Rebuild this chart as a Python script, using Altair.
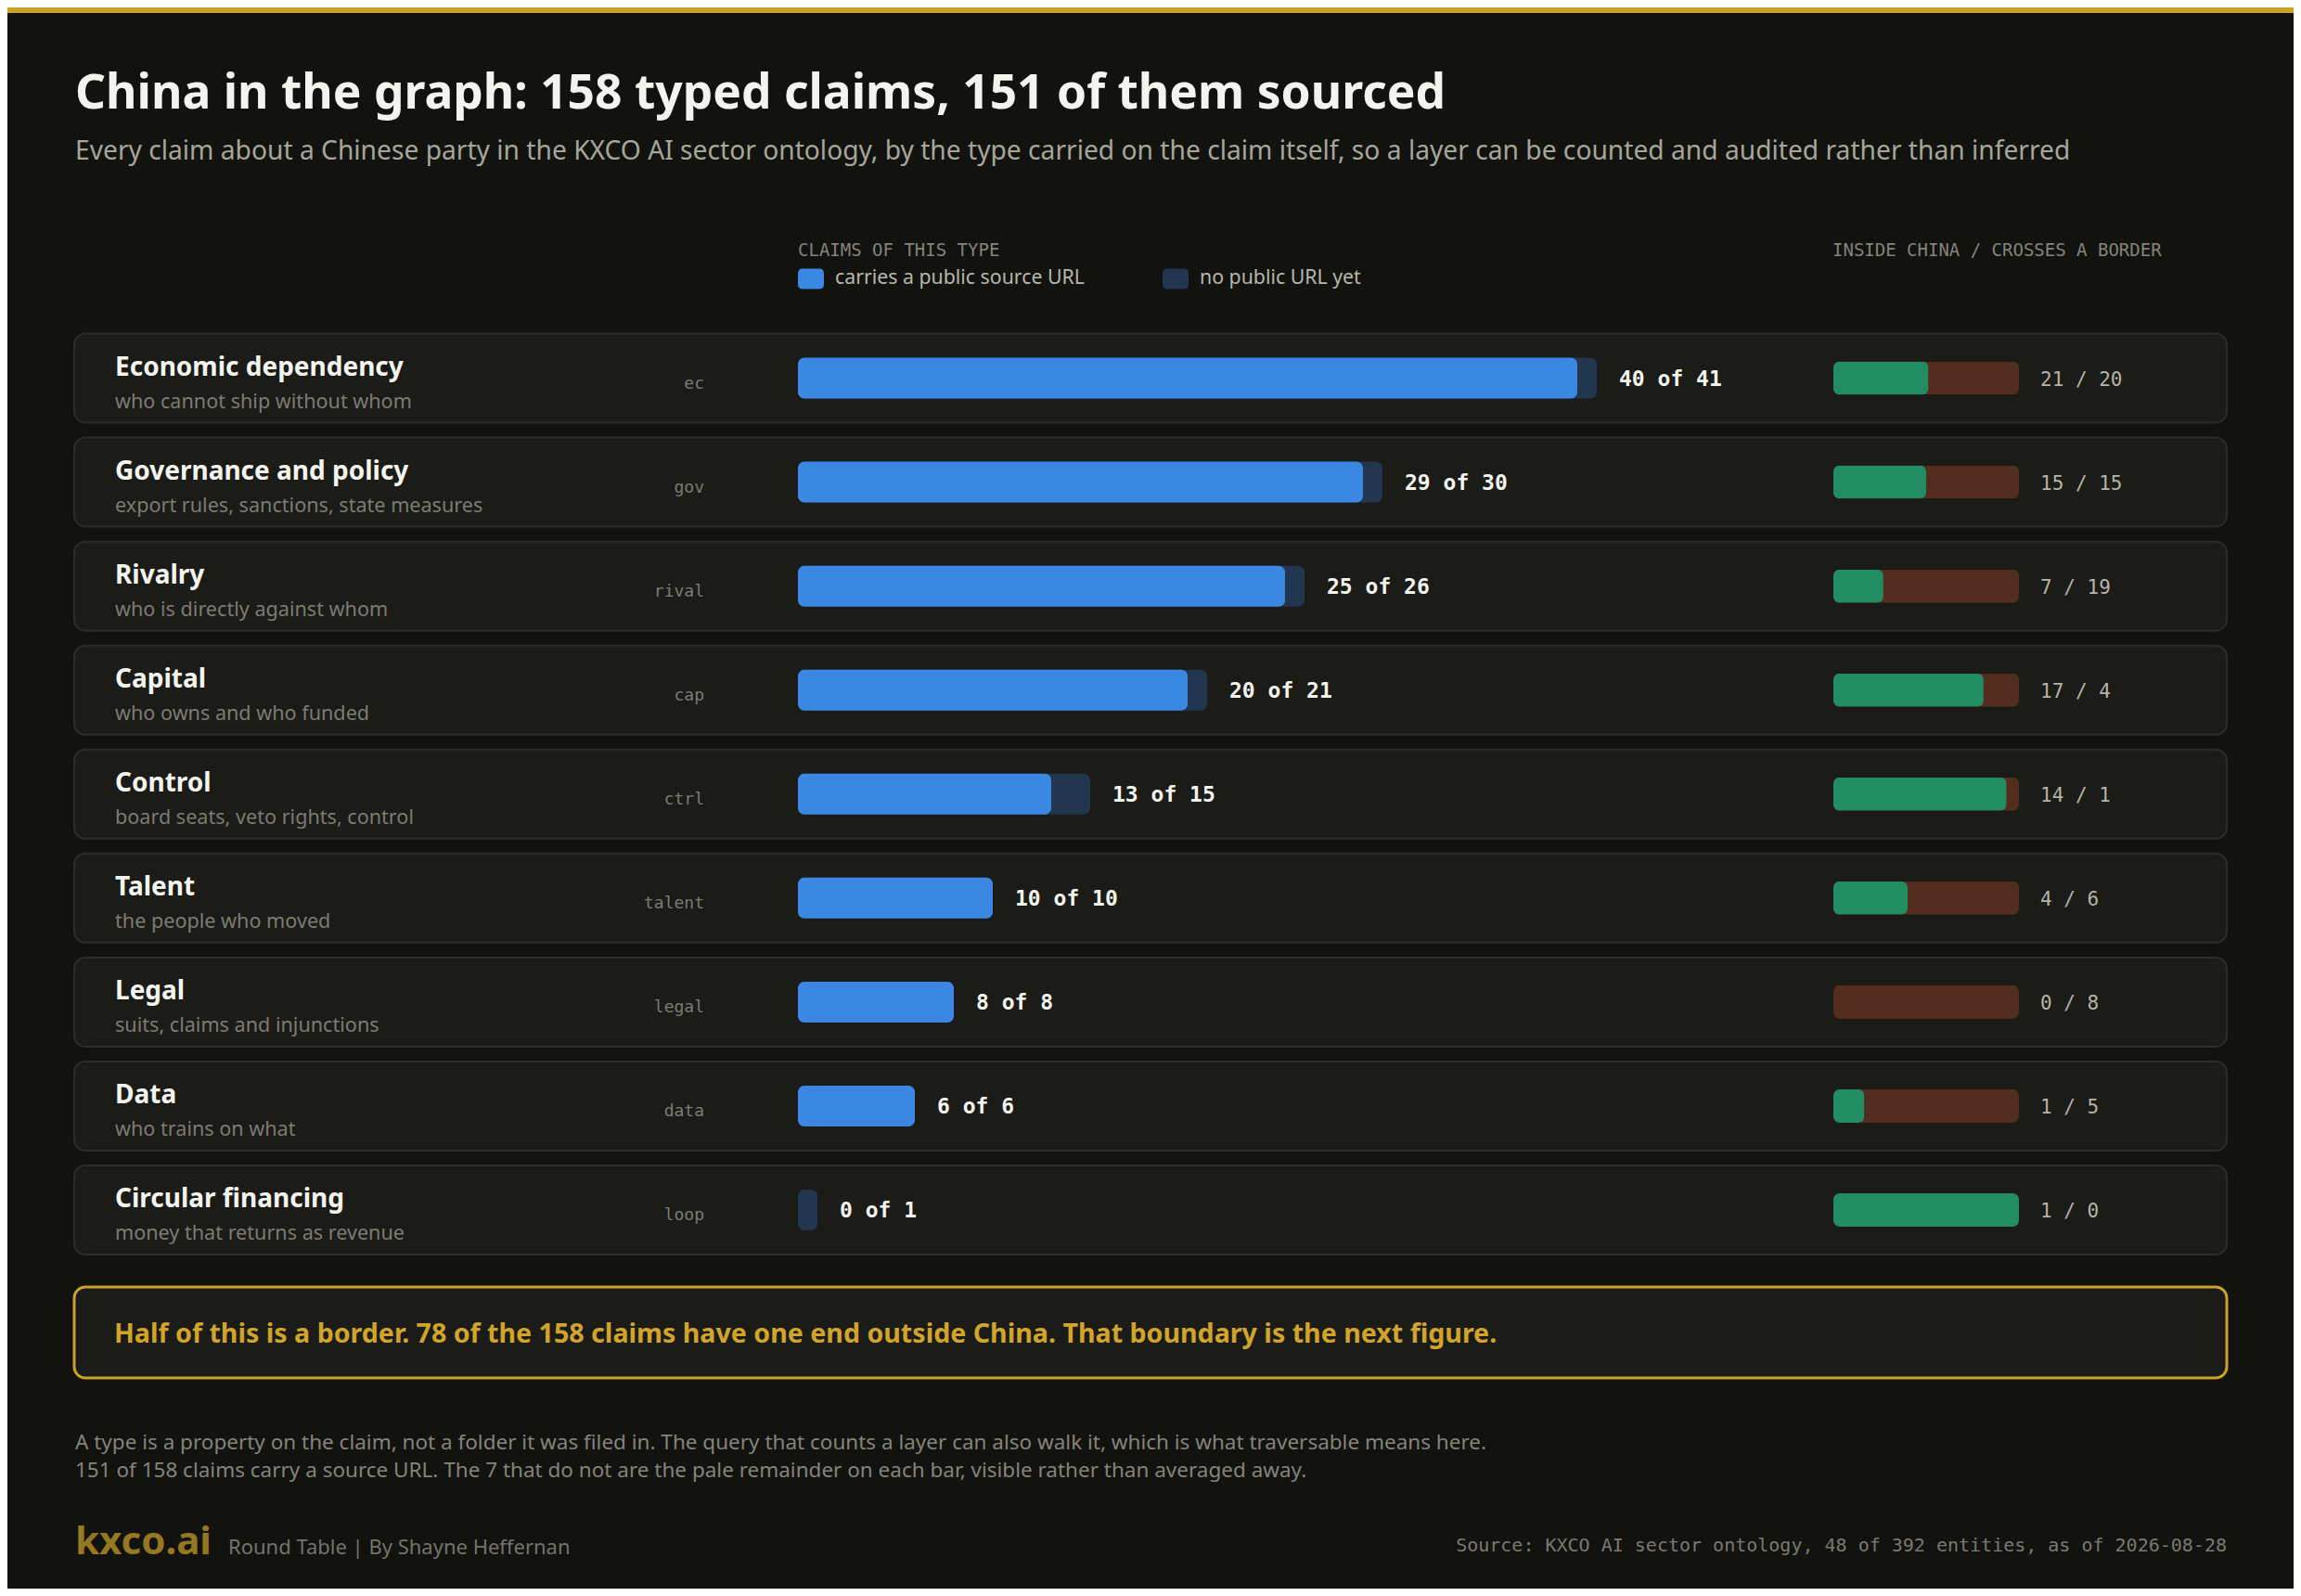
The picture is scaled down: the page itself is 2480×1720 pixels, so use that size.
import altair as alt
import pandas as pd

# Claim types, one card per row
NAMES = [
    "Economic dependency", "Governance and policy", "Rivalry", "Capital",
    "Control", "Talent", "Legal", "Data", "Circular financing",
]
SUBS = [
    "who cannot ship without whom", "export rules, sanctions, state measures",
    "who is directly against whom", "who owns and who funded",
    "board seats, veto rights, control", "the people who moved",
    "suits, claims and injunctions", "who trains on what",
    "money that returns as revenue",
]
CODES = ["ec", "gov", "rival", "cap", "ctrl", "talent", "legal", "data", "loop"]
SOURCED = [40, 29, 25, 20, 13, 10, 8, 6, 0]
TOTAL = [41, 30, 26, 21, 15, 10, 8, 6, 1]
INSIDE = [21, 15, 7, 17, 14, 4, 0, 1, 1]
CROSS = [20, 15, 19, 4, 1, 6, 8, 5, 0]

LEGEND_LABELS = ["carries a public source URL", "no public URL yet"]

TITLE = "China in the graph: 158 typed claims, 151 of them sourced"
SUBTITLE = ("Every claim about a Chinese party in the KXCO AI sector ontology, by the type "
            "carried on the claim itself, so a layer can be counted and audited rather than inferred")
SPLIT_HEADER = "INSIDE CHINA / CROSSES A BORDER"
CALLOUT = ("Half of this is a border. 78 of the 158 claims have one end outside China. "
           "That boundary is the next figure.")
NOTE_1 = ("A type is a property on the claim, not a folder it was filed in. The query that "
          "counts a layer can also walk it, which is what traversable means here.")
NOTE_2 = ("151 of 158 claims carry a source URL. The 7 that do not are the pale remainder "
          "on each bar, visible rather than averaged away.")
BRAND = "kxco.ai"
BYLINE = "Round Table | By Shayne Heffernan"
SOURCE = "Source: KXCO AI sector ontology, 48 of 392 entities, as of 2026-08-28"

# colours
BG = "#12120f"
CARD = "#1b1b17"
CARD_EDGE = "#2c2c28"
BLUE = "#3a88e3"
NAVY = "#22364f"
GREEN = "#228c63"
BROWN = "#532d1d"
GOLD = "#d1a42a"
GREY = "#84847a"
SANS = "Noto Sans"
MONO = "DejaVu Sans Mono"

W, H = 2464, 1704

rows = pd.DataFrame({
    "name": NAMES, "sub": SUBS, "code": CODES,
    "sourced": SOURCED, "total": TOTAL, "inside": INSIDE, "cross": CROSS,
})

# long form for the sourced / unsourced overlay: full total first, sourced on top
bars_long = pd.concat([
    pd.DataFrame({"name": NAMES, "status": LEGEND_LABELS[1], "count": TOTAL}),
    pd.DataFrame({"name": NAMES, "status": LEGEND_LABELS[0], "count": SOURCED}),
], ignore_index=True)

y_scale = alt.Scale(type="point", domain=NAMES, range=[399.5, 1296], padding=0)
y_enc = alt.Y("name:N", scale=y_scale, axis=None)
x_main = alt.Scale(domain=[0, 41], range=[852, 1713], nice=False, zero=True)
x_split = alt.Scale(domain=[0, 1], range=[1968, 2168], nice=False)

rounded = ("M-0.62,-0.79 L0.62,-0.79 Q1,-0.79 1,-0.41 L1,0.41 Q1,0.79 0.62,0.79 "
           "L-0.62,0.79 Q-1,0.79 -1,0.41 L-1,-0.41 Q-1,-0.79 -0.62,-0.79 Z")


def text(txt, x, y, **kw):
    style = dict(align="left", baseline="alphabetic", font=SANS)
    style.update(kw)
    return (
        alt.Chart(alt.Data(values=[{"t": txt}]))
        .mark_text(**style)
        .encode(x=alt.value(x), y=alt.value(y), text="t:N")
    )


def box(x, x2, y, y2, **kw):
    return (
        alt.Chart(alt.Data(values=[{}]))
        .mark_rect(**kw)
        .encode(x=alt.value(x), x2=alt.value(x2), y=alt.value(y), y2=alt.value(y2))
    )


top_bar = box(0, W, 0, 6, fill="#c9a227")

cards = (
    alt.Chart(rows)
    .mark_bar(size=96, cornerRadius=12, fill=CARD, stroke=CARD_EDGE, strokeWidth=2)
    .encode(x=alt.value(72), x2=alt.value(2392), y=y_enc)
)

names = alt.Chart(rows).mark_text(
    align="left", baseline="alphabetic", font=SANS, fontSize=28, fontWeight="bold",
    color="#f4f4ee", dy=-3,
).encode(x=alt.value(116), y=y_enc, text="name:N")

subs = alt.Chart(rows).mark_text(
    align="left", baseline="alphabetic", font=SANS, fontSize=21.6, color="#7c7c73", dy=32,
).encode(x=alt.value(116), y=y_enc, text="sub:N")

codes = alt.Chart(rows).mark_text(
    align="right", baseline="alphabetic", font=MONO, fontSize=18, color="#7c7c73", dy=11,
).encode(x=alt.value(751), y=y_enc, text="code:N")

main_bars = alt.Chart(bars_long).mark_bar(size=44, cornerRadius=7).encode(
    x=alt.X("count:Q", scale=x_main, axis=None, stack=None),
    y=y_enc,
    color=alt.Color(
        "status:N",
        scale=alt.Scale(domain=LEGEND_LABELS, range=[BLUE, NAVY]),
        legend=alt.Legend(
            title="CLAIMS OF THIS TYPE", orient="none", legendX=852, legendY=253,
            direction="horizontal", titleFont=MONO, titleFontSize=19,
            titleFontWeight="normal", titleColor=GREY, titlePadding=6, titleLimit=800,
            labelFont=SANS, labelFontSize=21.3, labelColor="#b7b7aa", labelOffset=12,
            labelLimit=600, symbolType=rounded, symbolSize=784, symbolStrokeWidth=0,
            symbolOpacity=1, columnPadding=84,
        ),
    ),
)

main_labels = (
    alt.Chart(rows)
    .transform_calculate(label="datum.sourced + ' of ' + datum.total")
    .mark_text(align="left", baseline="middle", font=MONO, fontSize=23,
               fontWeight="bold", color="#f4f4ee", dx=24, dy=1)
    .encode(x=alt.X("total:Q", scale=x_main, axis=None), y=y_enc, text="label:N")
)

split_base = alt.Chart(rows).transform_calculate(
    share="datum.inside / datum.total", whole="1"
)

split_bg = split_base.mark_bar(size=36, cornerRadius=7, color=BROWN).encode(
    x=alt.X("whole:Q", scale=x_split, axis=None), y=y_enc
)
split_fg = split_base.mark_bar(size=36, cornerRadius=7, color=GREEN).encode(
    x=alt.X("share:Q", scale=x_split, axis=None), y=y_enc
)

split_labels = (
    alt.Chart(rows)
    .transform_calculate(label="datum.inside + ' / ' + datum.cross")
    .mark_text(align="left", baseline="middle", font=MONO, fontSize=21,
               color="#b4b4a8", dy=2)
    .encode(x=alt.value(2191), y=y_enc, text="label:N")
)

callout = box(72, 2392, 1379, 1477, fill=CARD, stroke="#c9a227", strokeWidth=3,
              cornerRadius=12)

chart = (
    alt.layer(
        top_bar,
        cards,
        names,
        subs,
        codes,
        main_bars,
        main_labels,
        split_bg,
        split_fg,
        split_labels,
        callout,
        text(TITLE, 73, 109, fontSize=51.5, fontWeight="bold", color="#f4f4ee"),
        text(SUBTITLE, 73, 164, fontSize=28.2, color="#a6a69a"),
        text(SPLIT_HEADER, 1967, 268, font=MONO, fontSize=19, color=GREY),
        text(CALLOUT, 115, 1439, fontSize=28.6, fontWeight="bold", color=GOLD),
        text(NOTE_1, 73, 1554, fontSize=22.5, color=GREY),
        text(NOTE_2, 73, 1584, fontSize=22.5, color=GREY),
        text(BRAND, 73, 1667, fontSize=42, fontWeight="bold", color="#947822"),
        text(BYLINE, 238, 1667, fontSize=22, color="#74746b"),
        text(SOURCE, 2392, 1664, font=MONO, fontSize=20, color="#7a7a70", align="right"),
    )
    .resolve_scale(x="independent")
    .properties(width=W, height=H, padding=0, autosize="none", background=BG)
    .configure_view(strokeWidth=0)
)

chart.save("out.html", embed_options={"renderer": "svg", "actions": False})
